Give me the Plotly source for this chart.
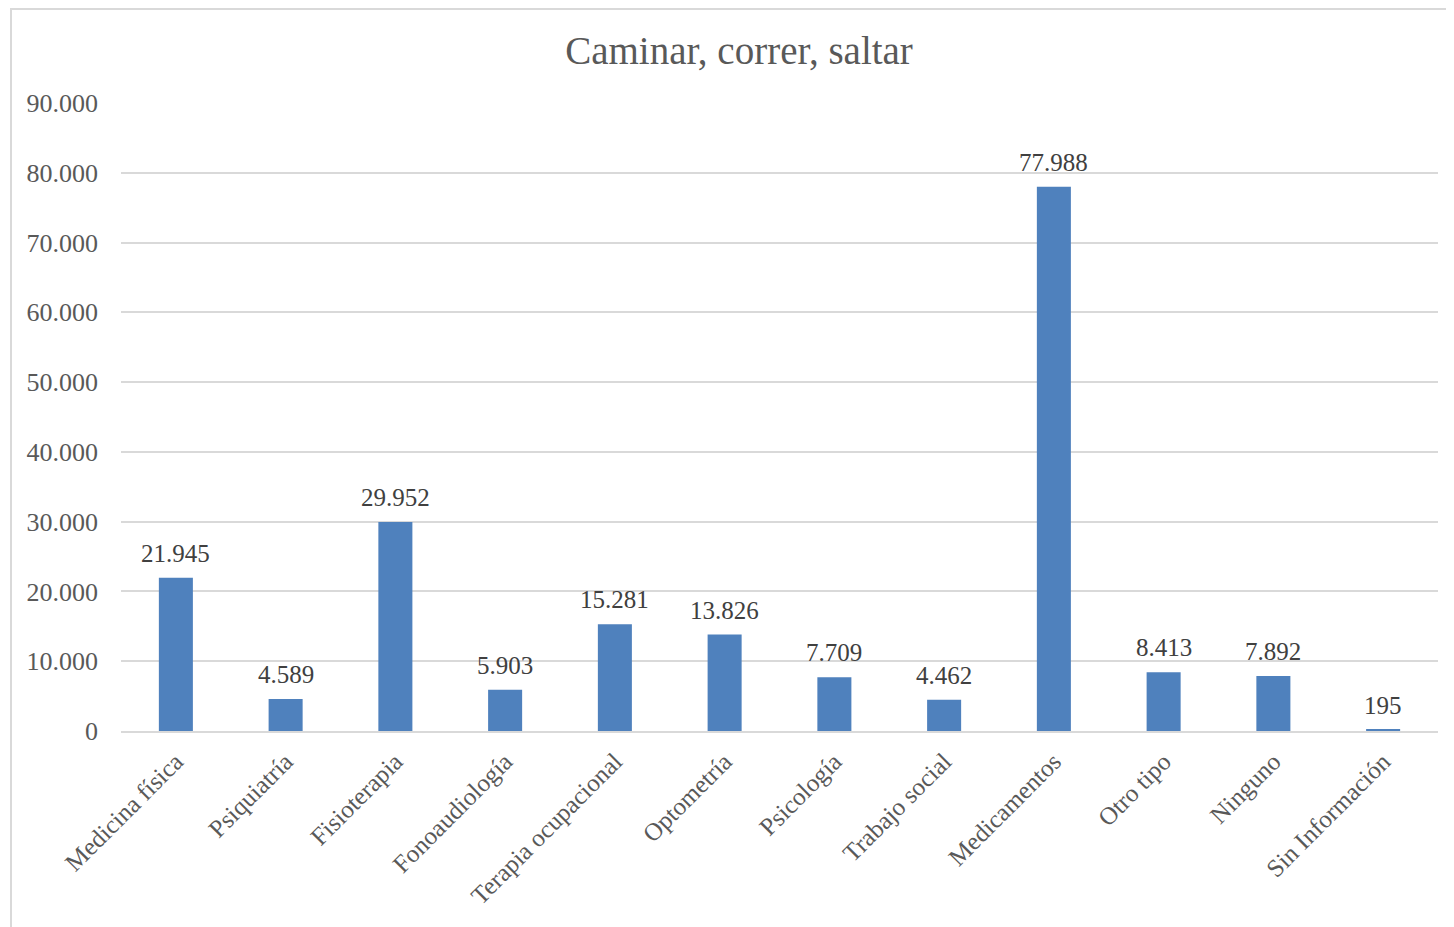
import plotly.graph_objects as go

categories = ["Medicina física", "Psiquiatría", "Fisioterapia", "Fonoaudiología",
              "Terapia ocupacional", "Optometría", "Psicología", "Trabajo social",
              "Medicamentos", "Otro tipo", "Ninguno", "Sin Información"]
values = [21945, 4589, 29952, 5903, 15281, 13826, 7709, 4462, 77988, 8413, 7892, 195]
tick_vals = [0, 10000, 20000, 30000, 40000, 50000, 60000, 70000, 80000, 90000]

OFF = 8  # page body margin
W, H = 1454 - OFF, 927 - OFF
L = 121 - OFF
T = 103 - OFF
R = W - (1438 - OFF)
B = H - (731 - OFF)
pw, ph = W - L - R, H - T - B

font = "Liberation Serif"

fig = go.Figure(go.Bar(
    x=categories, y=values,
    marker=dict(color="#4F81BD", line=dict(color="#4F81BD", width=0)),
    cliponaxis=False, width=0.31, hoverinfo="x+y",
))

for c, v in zip(categories, values):
    fig.add_annotation(x=c, y=v, xref="x", yref="y", text=f"{v:,}".replace(",", "."),
                       showarrow=False, yanchor="bottom", xanchor="center", yshift=9,
                       font=dict(family=font, size=25, color="#404040"))

fig.update_layout(
    width=W, height=H,
    margin=dict(l=L, r=R, t=T, b=B, pad=0),
    paper_bgcolor="white", plot_bgcolor="white",
    separators=",.",
    showlegend=False,
    title=dict(text="Caminar, correr, saltar", x=(739 - OFF) / W, xref="container",
               y=1 - (50 - OFF) / H, yref="container", xanchor="center", yanchor="middle",
               font=dict(family=font, size=39, color="#595959")),
    xaxis=dict(tickangle=-45, tickfont=dict(family=font, size=25, color="#595959"),
               showline=True, linecolor="#D9D9D9", linewidth=2, ticks="",
               showgrid=False, ticklabelstandoff=4),
    yaxis=dict(range=[0, 90000], tickvals=tick_vals, tickformat=",d",
               tickfont=dict(family=font, size=26, color="#595959"),
               showgrid=True, gridcolor="#D9D9D9", gridwidth=1.5,
               zeroline=False, showline=False, ticks="", ticklabelstandoff=22),
    shapes=[dict(type="rect", xref="paper", yref="paper",
                 x0=(11 - OFF - L) / pw, x1=(W + 20 - L) / pw,
                 y0=(H - B - (H + 20)) / ph, y1=(H - B - 1) / ph,
                 line=dict(color="#D9D9D9", width=2), fillcolor="rgba(0,0,0,0)",
                 layer="below")],
)

fig.write_html("out.html")
